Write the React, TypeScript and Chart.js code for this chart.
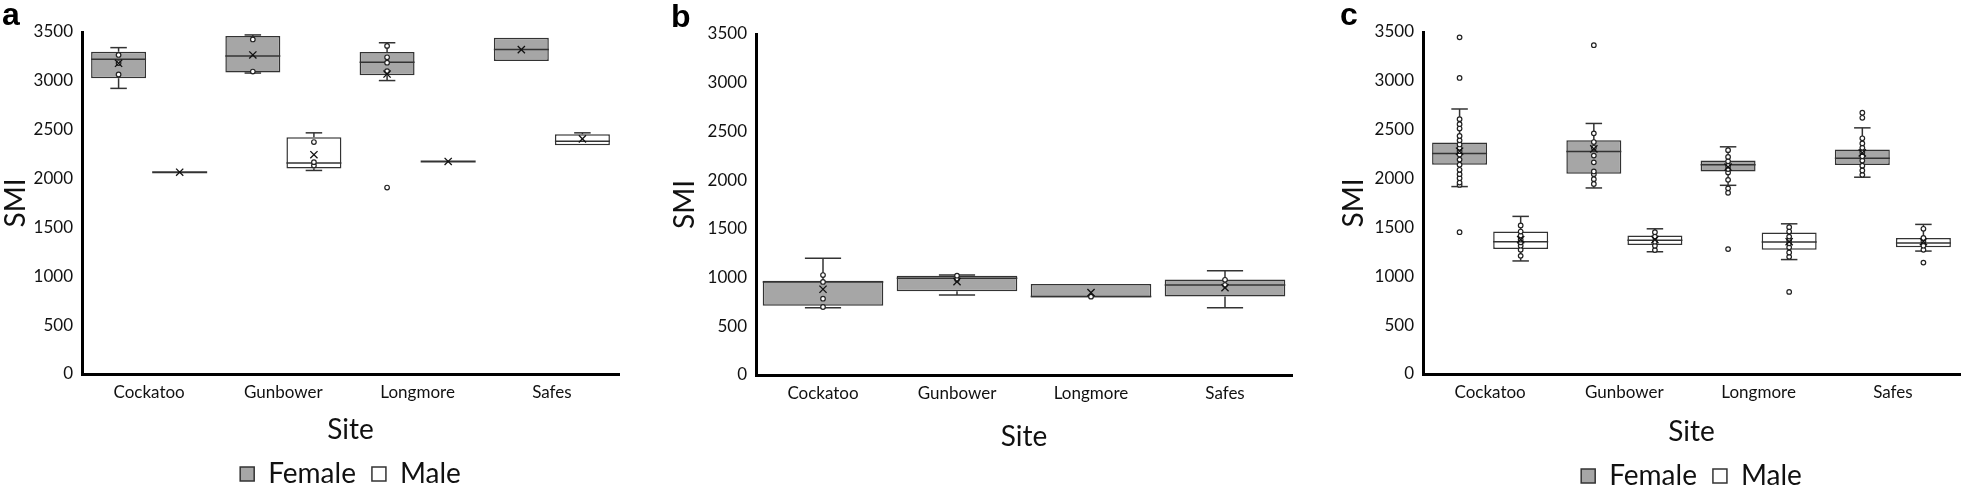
import React, { useEffect, useRef } from "react";
import { Chart, registerables } from "chart.js";
Chart.register(...registerables);

const FONT = "Lato";
const TEXT = "#111111";
const FEMALE_FILL = "#a6a6a6";
const MALE_FILL = "#ffffff";
const STROKE = "#333333";

const sites = ["Cockatoo", "Gunbower", "Longmore", "Safes"];
const yTickValues = [0, 500, 1000, 1500, 2000, 2500, 3000, 3500];

// ---- Panel a ----
const aFemaleMin = [2923, 3080, 3003, 3203];
const aFemaleQ1 = [3027, 3085, 3057, 3203];
const aFemaleMedian = [3220, 3255, 3190, 3320];
const aFemaleQ3 = [3298, 3460, 3296, 3441];
const aFemaleMax = [3340, 3470, 3390, 3441];
const aFemaleMean = [3180, 3265, 3070, 3320];
const aFemalePoints = [[3065, 3182, 3265], [3095, 3424], [1908, 3100, 3186, 3241, 3358], []];

const aMaleMin = [2065, 2083, 2175, 2340];
const aMaleQ1 = [2065, 2102, 2175, 2340];
const aMaleMedian = [2065, 2160, 2175, 2382];
const aMaleQ3 = [2065, 2423, 2175, 2454];
const aMaleMax = [2065, 2468, 2175, 2468];
const aMaleMean = [2065, 2244, 2175, 2406];
const aMalePoints = [[], [2133, 2168, 2374], [], []];

// ---- Panel b ----
const bFemaleMin = [691, 821, 796, 690];
const bFemaleQ1 = [711, 859, 796, 805];
const bFemaleMedian = [955, 992, 806, 923];
const bFemaleQ3 = [968, 1019, 934, 981];
const bFemaleMax = [1198, 1026, 934, 1069];
const bFemaleMean = [880, 958, 845, 896];
const bFemalePoints = [[698, 783, 955, 1026], [982, 1019], [804], [923, 977]];

// ---- Panel c ----
const cFemaleMin = [1918, 1904, 1931, 2014];
const cFemaleQ1 = [2142, 2049, 2073, 2139];
const cFemaleMedian = [2256, 2277, 2142, 2208];
const cFemaleQ3 = [2370, 2391, 2184, 2298];
const cFemaleMax = [2712, 2564, 2325, 2519];
const cFemaleMean = [2280, 2304, 2118, 2263];
const cFemalePoints = [
  [1451, 1935, 1959, 2004, 2045, 2090, 2142, 2194, 2246, 2280, 2315, 2349, 2391, 2436, 2512, 2557, 2608, 3030, 3445],
  [1945, 1994, 2045, 2073, 2166, 2235, 2315, 2374, 2463, 3365],
  [1278, 1855, 1900, 1987, 2063, 2097, 2132, 2177, 2222, 2291],
  [2038, 2083, 2132, 2184, 2228, 2270, 2315, 2360, 2412, 2622, 2674],
];

const cMaleMin = [1157, 1251, 1171, 1258];
const cMaleQ1 = [1278, 1320, 1271, 1296];
const cMaleMedian = [1354, 1368, 1351, 1341];
const cMaleQ3 = [1458, 1417, 1448, 1392];
const cMaleMax = [1613, 1486, 1537, 1531];
const cMaleMean = [1375, 1375, 1354, 1354];
const cMalePoints = [
  [1209, 1271, 1313, 1347, 1375, 1417, 1458, 1520],
  [1268, 1313, 1354, 1406, 1451],
  [840, 1199, 1244, 1296, 1337, 1372, 1406, 1458, 1503],
  [1140, 1271, 1313, 1358, 1392, 1486],
];

type Series = {
  label: string;
  fill: string;
  min: number[];
  q1: number[];
  median: number[];
  q3: number[];
  max: number[];
  mean: number[];
  points: number[][];
};

const femaleA: Series = { label: "Female", fill: FEMALE_FILL, min: aFemaleMin, q1: aFemaleQ1, median: aFemaleMedian, q3: aFemaleQ3, max: aFemaleMax, mean: aFemaleMean, points: aFemalePoints };
const maleA: Series = { label: "Male", fill: MALE_FILL, min: aMaleMin, q1: aMaleQ1, median: aMaleMedian, q3: aMaleQ3, max: aMaleMax, mean: aMaleMean, points: aMalePoints };
const femaleB: Series = { label: "Female", fill: FEMALE_FILL, min: bFemaleMin, q1: bFemaleQ1, median: bFemaleMedian, q3: bFemaleQ3, max: bFemaleMax, mean: bFemaleMean, points: bFemalePoints };
const femaleC: Series = { label: "Female", fill: FEMALE_FILL, min: cFemaleMin, q1: cFemaleQ1, median: cFemaleMedian, q3: cFemaleQ3, max: cFemaleMax, mean: cFemaleMean, points: cFemalePoints };
const maleC: Series = { label: "Male", fill: MALE_FILL, min: cMaleMin, q1: cMaleQ1, median: cMaleMedian, q3: cMaleQ3, max: cMaleMax, mean: cMaleMean, points: cMalePoints };

type PanelSpec = {
  left: number;
  width: number;
  letter: string;
  series: Series[];
  legend: boolean;
  pad: { left: number; right: number; top: number; bottom: number };
  yAxisWidth: number;
  xAxisHeight: number;
  categoryPercentage: number;
};

const panels: PanelSpec[] = [
  { left: 0, width: 654, letter: "a", series: [femaleA, maleA], legend: true, pad: { left: 2, right: 35, top: 0, bottom: -9 }, yAxisWidth: 80, xAxisHeight: 70, categoryPercentage: 0.91 },
  { left: 654, width: 654, letter: "b", series: [femaleB], legend: false, pad: { left: 17, right: 16, top: 2, bottom: 38 }, yAxisWidth: 85, xAxisHeight: 76, categoryPercentage: 1 },
  { left: 1307, width: 654, letter: "c", series: [femaleC, maleC], legend: true, pad: { left: 33, right: 1, top: 0, bottom: -11 }, yAxisWidth: 83, xAxisHeight: 72, categoryPercentage: 0.91 },
];

function boxExtras(series: Series[]) {
  return {
    id: "boxExtras",
    afterDatasetsDraw(chart: any) {
      const ctx: CanvasRenderingContext2D = chart.ctx;
      const ys = chart.scales.y;
      const py = (v: number) => ys.getPixelForValue(v);
      const seg = (x1: number, y1: number, x2: number, y2: number) => {
        ctx.beginPath();
        ctx.moveTo(x1, y1);
        ctx.lineTo(x2, y2);
        ctx.stroke();
      };
      series.forEach((s, di) => {
        const meta = chart.getDatasetMeta(di);
        meta.data.forEach((el: any, i: number) => {
          const { x, width } = el.getProps(["x", "width"], true);
          const half = width / 2;
          const cap = width * 0.15;
          ctx.save();
          ctx.strokeStyle = STROKE;
          ctx.lineWidth = 1.5;
          if (s.max[i] > s.q3[i]) {
            seg(x, py(s.q3[i]), x, py(s.max[i]));
            seg(x - cap, py(s.max[i]), x + cap, py(s.max[i]));
          }
          if (s.min[i] < s.q1[i]) {
            seg(x, py(s.q1[i]), x, py(s.min[i]));
            seg(x - cap, py(s.min[i]), x + cap, py(s.min[i]));
          }
          ctx.lineWidth = s.q1[i] === s.q3[i] ? 2 : 1.5;
          seg(x - half, py(s.median[i]), x + half, py(s.median[i]));
          // points
          ctx.strokeStyle = "#222222";
          ctx.lineWidth = 1.2;
          ctx.fillStyle = "#ffffff";
          s.points[i].forEach((v) => {
            ctx.beginPath();
            ctx.arc(x, py(v), 2.3, 0, Math.PI * 2);
            ctx.fill();
            ctx.stroke();
          });
          // mean marker
          ctx.strokeStyle = "#111111";
          ctx.lineWidth = 1.3;
          const m = py(s.mean[i]);
          const r = 3.6;
          seg(x - r, m - r, x + r, m + r);
          seg(x - r, m + r, x + r, m - r);
          ctx.restore();
        });
      });
    },
  };
}

function Panel({ spec }: { spec: PanelSpec }) {
  const ref = useRef<HTMLCanvasElement>(null);
  useEffect(() => {
    const canvas = ref.current;
    if (!canvas) return;
    const chart = new Chart(canvas, {
      type: "bar",
      data: {
        labels: sites,
        datasets: spec.series.map((s) => ({
          label: s.label,
          data: s.q1.map((q, i) => [q, s.q3[i]]),
          backgroundColor: s.fill,
          borderColor: STROKE,
          borderWidth: 1.5,
          borderSkipped: false,
          barPercentage: 0.9,
          categoryPercentage: spec.categoryPercentage,
        })),
      } as any,
      options: {
        animation: false,
        responsive: false,
        devicePixelRatio: 1,
        events: [],
        layout: { padding: spec.pad },
        plugins: {
          legend: {
            display: spec.legend,
            position: "bottom",
            fullSize: false,
            labels: {
              boxWidth: 14,
              boxHeight: 14,
              padding: 16,
              color: TEXT,
              font: { family: FONT, size: 28 },
            },
          },
          title: {
            display: true,
            text: spec.letter,
            align: "start",
            color: "#000",
            font: { family: "Liberation Sans", weight: "bold", size: 32, lineHeight: 1 },
            padding: 0,
          },
          tooltip: { enabled: false },
        },
        scales: {
          x: {
            grid: { display: false, drawTicks: false },
            border: { display: true, color: "#000", width: 3 },
            ticks: { color: TEXT, font: { family: FONT, size: 17 }, padding: 8 },
            title: { display: true, text: "Site", color: TEXT, font: { family: FONT, size: 28, lineHeight: 1 }, padding: 0 },
            afterFit: (scale: any) => {
              scale.height = spec.xAxisHeight;
            },
          },
          y: {
            min: 0,
            max: 3500,
            afterBuildTicks: (scale: any) => {
              scale.ticks = yTickValues.map((v) => ({ value: v }));
            },
            grid: { display: false, drawTicks: false },
            border: { display: true, color: "#000", width: 3 },
            ticks: {
              color: TEXT,
              font: { family: FONT, size: 17 },
              padding: 9,
              callback: (v: any) => String(v),
            },
            title: { display: true, text: "SMI", color: TEXT, font: { family: FONT, size: 28, lineHeight: 1 }, padding: 0 },
            afterFit: (scale: any) => {
              scale.width = spec.yAxisWidth;
            },
          },
        },
      } as any,
      plugins: [boxExtras(spec.series)],
    });
    return () => chart.destroy();
  }, [spec]);
  return (
    <div style={{ position: "absolute", left: spec.left, top: 0, width: spec.width, height: 489 }}>
      <canvas ref={ref} width={spec.width} height={489} style={{ display: "block", width: spec.width, height: 489 }} />
    </div>
  );
}

export default function App() {
  return (
    <div style={{ position: "absolute", left: 0, top: 0, width: 1961, height: 489, background: "#fff", overflow: "hidden" }}>
      {panels.map((p) => (
        <Panel key={p.letter} spec={p} />
      ))}
    </div>
  );
}
